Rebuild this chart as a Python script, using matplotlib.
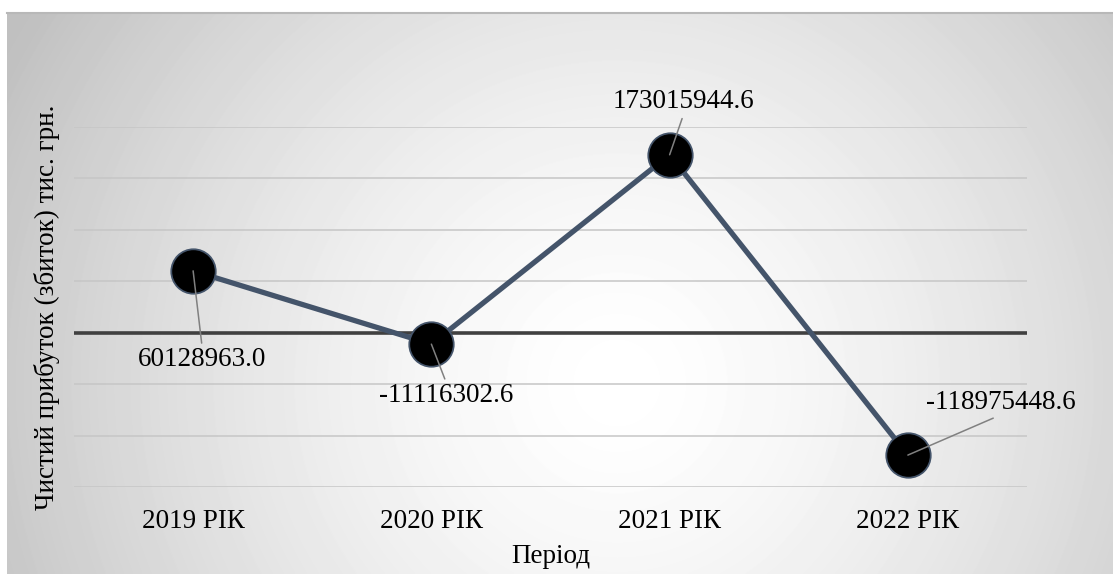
import numpy as np
import matplotlib
matplotlib.use("Agg")
import matplotlib.pyplot as plt

# Net profit (loss) by year, thousand UAH
periods = ["2019 РІК", "2020 РІК", "2021 РІК", "2022 РІК"]
profit = [60128963.0, -11116302.6, 173015944.6, -118975448.6]
labels = ["60128963.0", "-11116302.6", "173015944.6", "-118975448.6"]
# label offsets from the marker, in points, and where the leader meets the text
offsets = [(6.5, -64), (10.8, -37), (10, 38), (67, 38)]
anchors = [(0.5, 1), (0.5, 1), (0.5, 0), (0.5, 0)]

plt.rcParams["font.family"] = ["Liberation Serif", "DejaVu Serif"]

W, H = 1113, 574
fig = plt.figure(figsize=(W / 100, H / 100), dpi=100)

# radial grey-to-white backdrop of the chart area (pixel distances)
bw, bh = W - 7, H - 13
bg = fig.add_axes([7 / W, 0, bw / W, bh / H])
px, py = np.meshgrid(np.arange(bw), np.arange(bh))
d = np.hypot(px - 610, py - 370)
shade = 1.0 - 0.25 * np.clip(d / 700, 0, 1) ** 1.5
bg.imshow(shade, cmap="gray", vmin=0, vmax=1, aspect="auto",
          extent=[0, 1, 0, 1], interpolation="bilinear")
bg.plot([0, 1], [1, 1], color="#b8b8b8", lw=1.5, transform=bg.transAxes, clip_on=False)
bg.set_axis_off()

ax = fig.add_axes([74 / W, 1 - 487 / H, (1027 - 74) / W, (487 - 127) / H])
ax.set_facecolor("none")
ax.set_xlim(-0.5, 3.5)
ax.set_ylim(-150e6, 200e6)

for v in np.arange(-150e6, 201e6, 50e6):
    if v == 0:
        ax.axhline(0, color="#404040", lw=2.6, zorder=1)
    else:
        ax.axhline(v, color="#c6c6c6", lw=1.1, zorder=1)

x = np.arange(len(periods))
ax.plot(x, profit, color="#44546A", lw=3.8, zorder=2)
ax.plot(x, profit, "o", ms=32, mfc="black", mec="#44546A", mew=1.3, zorder=3)

for xi, v, lab, off, rp in zip(x, profit, labels, offsets, anchors):
    ax.annotate(lab, (xi, v), xytext=off, textcoords="offset points",
                ha="center", va="center", fontsize=19.5, zorder=4,
                arrowprops=dict(arrowstyle="-", color="#808080", lw=1.1,
                                shrinkA=1, shrinkB=0, relpos=rp))

ax.set_xticks(x)
ax.set_xticklabels(periods, fontsize=19.5)
ax.set_yticks([])
ax.tick_params(axis="x", length=0, pad=16)
for s in ax.spines.values():
    s.set_visible(False)

ax.set_xlabel("Період", fontsize=19.5, labelpad=7)
ax.set_ylabel("Чистий прибуток (збиток) тис. грн.", fontsize=19.5, labelpad=10)

fig.savefig("out.png", dpi=100)
